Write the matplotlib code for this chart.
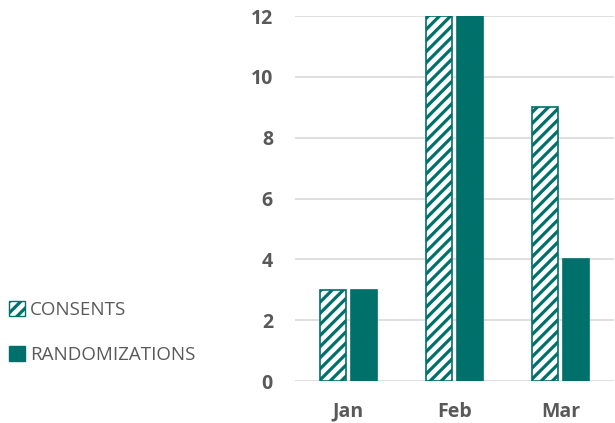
import matplotlib.pyplot as plt
import matplotlib.patches as mpatches
import numpy as np

months = ['Jan', 'Feb', 'Mar']
consents = [3, 12, 9]
randomizations = [3, 12, 4]

teal = '#00706b'
gray = '#595959'

plt.rcParams['font.family'] = ['Open Sans', 'DejaVu Sans']
plt.rcParams['hatch.linewidth'] = 2.3
plt.rcParams['hatch.color'] = teal

fig = plt.figure(figsize=(6.15, 4.23), dpi=100)
ax = fig.add_axes([0.48, 0.099, 0.518, 0.863])

x = np.arange(len(months))
w = 0.244
off = 0.146
ax.bar(x - off, consents, w, facecolor='white', edgecolor=teal, hatch='///', linewidth=1.2)
ax.bar(x + off, randomizations, w, facecolor=teal, edgecolor=teal, linewidth=1.2)

ax.set_xlim(-0.5, 2.5)
ax.set_ylim(0, 12)
ax.set_yticks(range(0, 13, 2))
ax.set_xticks(x)
ax.set_xticklabels(months)
ax.grid(axis='y', color='#d9d9d9', linewidth=1.2)
ax.set_axisbelow(True)
for s in ax.spines.values():
    s.set_visible(False)
ax.tick_params(length=0, labelcolor=gray, labelsize=14)
ax.tick_params(axis='y', pad=16)
ax.tick_params(axis='x', pad=15)
for lbl in ax.get_xticklabels() + ax.get_yticklabels():
    lbl.set_fontweight('bold')

handles = [
    mpatches.Patch(facecolor='white', edgecolor=teal, hatch='///', label='CONSENTS'),
    mpatches.Patch(facecolor=teal, edgecolor=teal, label='RANDOMIZATIONS'),
]
fig.legend(handles=handles, loc='center left', bbox_to_anchor=(0.006, 0.214),
           frameon=False, fontsize=13.5, labelcolor=gray, labelspacing=1.4,
           handlelength=0.85, handleheight=0.85, handletextpad=0.25,
           borderpad=0.3, borderaxespad=0.0)

fig.savefig('out.png', dpi=100)
